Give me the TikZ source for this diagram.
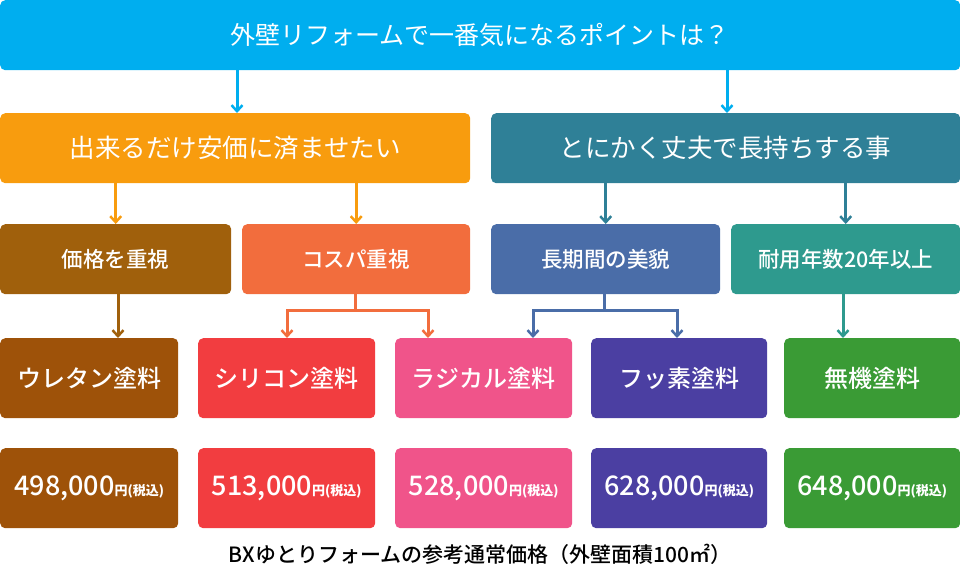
\documentclass[tikz,border=0pt]{standalone}
\usepackage{fontspec}
\setmainfont{Noto Sans CJK JP}
\newfontfamily\medium{Noto Sans CJK JP Medium}
\usetikzlibrary{arrows.meta}
\definecolor{ccyan}{HTML}{00AEEF}
\definecolor{corange}{HTML}{F89C0E}
\definecolor{cteal}{HTML}{2F8097}
\definecolor{cbrownA}{HTML}{A0600C}
\definecolor{ccospa}{HTML}{F26D3D}
\definecolor{cblue}{HTML}{4A6DA8}
\definecolor{cgteal}{HTML}{2E9A8E}
\definecolor{cbrown}{HTML}{9E5209}
\definecolor{cred}{HTML}{F23D40}
\definecolor{cpink}{HTML}{F0548A}
\definecolor{cpurple}{HTML}{4B3FA2}
\definecolor{cgreen}{HTML}{3A9B35}
\tikzset{x=1pt,y=-1pt,
 box/.style={rounded corners=5pt,inner sep=0pt,text=white,anchor=north west},
 arr/.style={line width=3pt,-{Straight Barb[length=6pt,width=11pt,line width=2.5pt]}},
 ln/.style={line width=3pt}}
\newcommand{\bx}[7]{\node[box,fill=#5,minimum width=#3pt,minimum height=#4pt,font=\fontsize{#6}{#6}\selectfont] (#7) at (#1,#2) {};\node[text=white,font=\fontsize{#6}{#6}\selectfont] at (#7.center) }
\begin{document}
\begin{tikzpicture}
\useasboundingbox (0,0) rectangle (960,580);
\bx{0}{0}{960}{70}{ccyan}{25}{top}{外壁リフォームで一番気になるポイントは？};
\bx{0}{113}{470}{70}{corange}{25.5}{L}{出来るだけ安価に済ませたい};
\bx{491}{113}{469}{70}{cteal}{25.5}{R}{とにかく丈夫で長持ちする事};
\bx{0}{224}{231}{70}{cbrownA}{21.5}{a}{\medium 価格を重視};
\bx{242}{224}{228}{70}{ccospa}{21.5}{b}{\medium コスパ重視};
\bx{491}{224}{229}{70}{cblue}{21.5}{c}{\medium 長期間の美貌};
\bx{731}{224}{229}{70}{cgteal}{21.5}{d}{\medium 耐用年数20年以上};
\bx{0}{338}{178}{80}{cbrown}{24}{p1}{\medium ウレタン塗料};
\bx{198}{338}{177}{80}{cred}{24}{p2}{\medium シリコン塗料};
\bx{395}{338}{177}{80}{cpink}{24}{p3}{\medium ラジカル塗料};
\bx{591}{338}{176}{80}{cpurple}{24}{p4}{\medium フッ素塗料};
\bx{784}{338}{176}{80}{cgreen}{24}{p5}{\medium 無機塗料};
\newcommand{\pr}[1]{{\medium\fontsize{27}{27}\selectfont #1}{\fontsize{13}{13}\selectfont\bfseries 円(税込)}}
\bx{0}{448}{178}{80}{cbrown}{22}{q1}{\pr{498,000}};
\bx{198}{448}{177}{80}{cred}{22}{q2}{\pr{513,000}};
\bx{395}{448}{177}{80}{cpink}{22}{q3}{\pr{528,000}};
\bx{591}{448}{176}{80}{cpurple}{22}{q4}{\pr{628,000}};
\bx{784}{448}{176}{80}{cgreen}{22}{q5}{\pr{648,000}};
\node[font=\medium\fontsize{21}{21}\selectfont] (cap) at (480,554) {BXゆとりフォームの参考通常価格（外壁面積100㎡）};
\draw[arr,ccyan] (top.south -| 237,0) -- (L.north -| 237,0);
\draw[arr,ccyan] (top.south -| 727,0) -- (R.north -| 727,0);
\draw[arr,corange] (L.south -| a.center) -- (a.north);
\draw[arr,corange] (L.south -| b.center) -- (b.north);
\draw[arr,cteal] (R.south -| c.center) -- (c.north);
\draw[arr,cteal] (R.south -| d.center) -- (d.north);
\draw[arr,cbrownA] (a.south -| 118,0) -- (p1.north -| 118,0);
\draw[arr,cgteal] (d.south -| 843,0) -- (p5.north -| 843,0);
\coordinate (bj) at (355,310);
\draw[ln,ccospa] (b.south -| bj) -- (bj);
\draw[arr,ccospa] (bj) -| (p2.north -| 287,0);
\draw[arr,ccospa] (bj) -| (p3.north -| 428,0);
\coordinate (cj) at (604,310);
\draw[ln,cblue] (c.south -| cj) -- (cj);
\draw[arr,cblue] (cj) -| (p3.north -| 533,0);
\draw[arr,cblue] (cj) -| (p4.north -| 677,0);
\end{tikzpicture}
\end{document}
